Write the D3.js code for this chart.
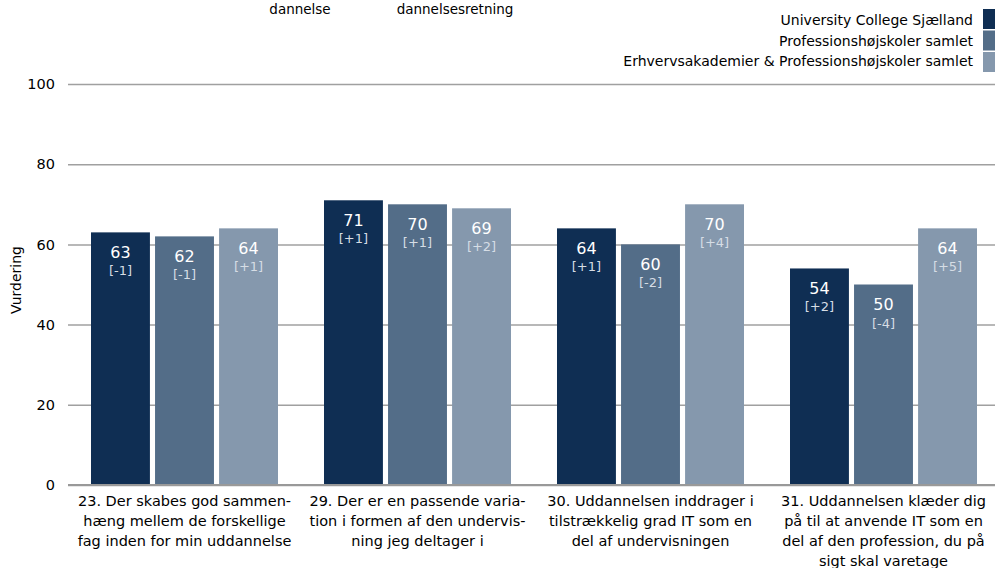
<!DOCTYPE html>
<html><head><meta charset="utf-8">
<script src="https://cdn.jsdelivr.net/npm/d3@7"></script>
<style>body{margin:0;background:#fff}svg{display:block}text{font-family:"DejaVu Sans",sans-serif}</style>
</head><body>
<svg id="c" width="995" height="568"></svg>
<script>
const categories = [
  ["23. Der skabes god sammen-","hæng mellem de forskellige","fag inden for min uddannelse"],
  ["29. Der er en passende varia-","tion i formen af den undervis-","ning jeg deltager i"],
  ["30. Uddannelsen inddrager i","tilstrækkelig grad IT som en","del af undervisningen"],
  ["31. Uddannelsen klæder dig","på til at anvende IT som en","del af den profession, du på","sigt skal varetage"]
];
const seriesNames = ["University College Sjælland","Professionshøjskoler samlet","Erhvervsakademier & Professionshøjskoler samlet"];
const seriesValues = [
  [63, 71, 64, 54],
  [62, 70, 60, 50],
  [64, 69, 70, 64]
];
const seriesDeltas = [
  ["[-1]","[+1]","[+1]","[+2]"],
  ["[-1]","[+1]","[-2]","[-4]"],
  ["[+1]","[+2]","[+4]","[+5]"]
];
const yTicks = [0,20,40,60,80,100];
const titleFragments = ["dannelse","dannelsesretning"];
const colors = ["#0f2e53","#536d88","#8598ad"];

const svg = d3.select("#c");
const y = d3.scaleLinear().domain([0,100]).range([485,84]);
const x0 = d3.scaleBand().domain(d3.range(4)).range([68,1000]).paddingInner(0).paddingOuter(0);
const x1 = d3.scaleBand().domain(d3.range(3)).range([23, 233-23]).paddingInner(0.08);

// title fragments (bottom of clipped headings)
const tx = [300, 455];
titleFragments.forEach((t,i)=>svg.append("text").attr("x",tx[i]).attr("y",14).attr("text-anchor","middle")
  .attr("font-size",13.5).attr("fill","#000").text(t));

// grid
const yAxis = d3.axisLeft(y).tickValues(yTicks).tickSize(-(1000-68)).tickPadding(13);
const ga = svg.append("g").attr("transform","translate(68,0)").call(yAxis);
ga.select(".domain").remove();
ga.selectAll(".tick line").attr("stroke","#a0a0a0").attr("stroke-width",1.5);
ga.selectAll(".tick text").attr("font-size",14.5).attr("fill","#000").attr("font-family","DejaVu Sans");

svg.append("text").attr("transform","translate(21,280) rotate(-90)").attr("text-anchor","middle")
  .attr("font-size",14).text("Vurdering");

// bars
const data = [];
seriesValues.forEach((vals,s)=>vals.forEach((v,i)=>data.push({s,i,v,d:seriesDeltas[s][i]})));
const g = svg.append("g");
g.selectAll("rect").data(data).enter().append("rect")
  .attr("x",d=>x0(d.i)+x1(d.s)).attr("width",x1.bandwidth())
  .attr("y",d=>y(d.v)).attr("height",d=>y(0)-y(d.v)).attr("fill",d=>colors[d.s]);
g.selectAll("text.v").data(data).enter().append("text").attr("class","v")
  .attr("x",d=>x0(d.i)+x1(d.s)+x1.bandwidth()/2).attr("y",d=>y(d.v)+25.5)
  .attr("text-anchor","middle").attr("font-size",16).attr("fill","#fff").text(d=>d.v);
g.selectAll("text.d").data(data).enter().append("text").attr("class","d")
  .attr("x",d=>x0(d.i)+x1(d.s)+x1.bandwidth()/2).attr("y",d=>y(d.v)+43)
  .attr("text-anchor","middle").attr("font-size",13).attr("fill","#d6dde5").text(d=>d.d);

// baseline
svg.append("line").attr("x1",68).attr("x2",1000).attr("y1",y(0)).attr("y2",y(0)).attr("stroke","#999").attr("stroke-width",2);

// x labels
categories.forEach((lines,i)=>{
  const t = svg.append("text").attr("text-anchor","middle").attr("font-size",14.5).attr("fill","#000");
  lines.forEach((l,k)=>t.append("tspan").attr("x",x0(i)+x0.bandwidth()/2).attr("y",506+k*20).text(l));
});

// legend
seriesNames.forEach((n,s)=>{
  svg.append("rect").attr("x",983).attr("y",9+s*21.5).attr("width",14).attr("height",20).attr("fill",colors[s]);
  svg.append("text").attr("x",973).attr("y",25+s*20.5).attr("text-anchor","end").attr("font-size",14).text(n);
});
</script>
</body></html>
